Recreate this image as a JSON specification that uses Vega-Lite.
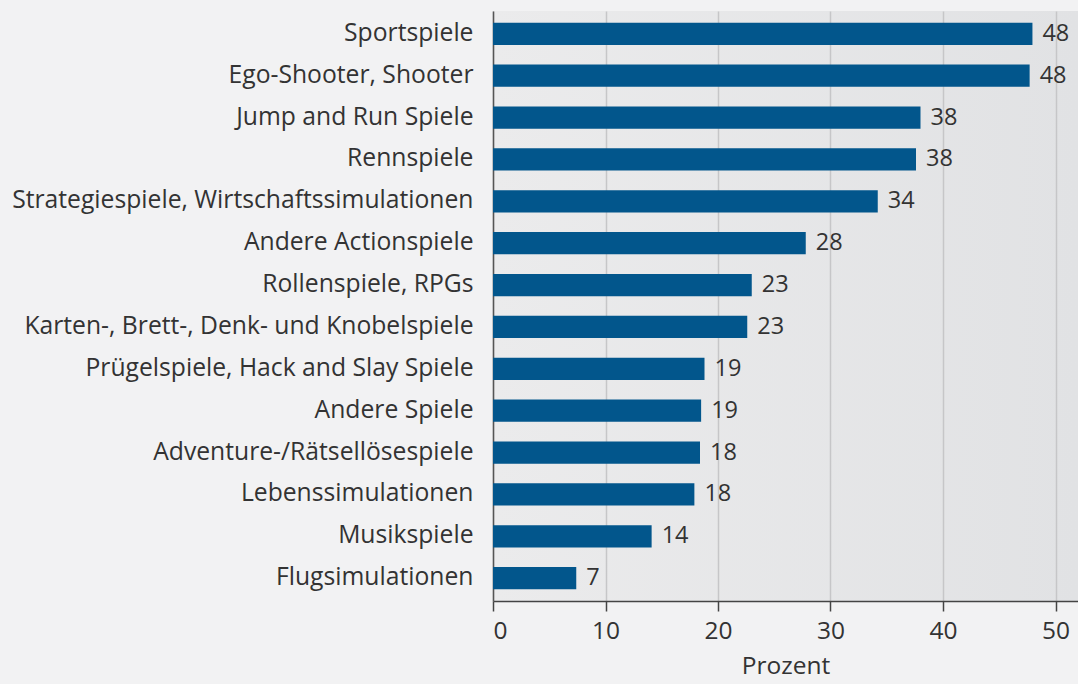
{
  "$schema": "https://vega.github.io/schema/vega-lite/v6.json",
  "width": 585,
  "height": 590,
  "autosize": {"type": "none"},
  "padding": {"left": 493, "top": 11, "right": 0, "bottom": 83},
  "background": "#f2f2f3",
  "config": {
    "font": "Open Sans",
    "view": {"stroke": null, "fill": {"gradient": "linear", "x1": 0, "y1": 0, "x2": 1, "y2": 0, "stops": [{"offset": 0, "color": "#ebebec"}, {"offset": 1, "color": "#e1e2e4"}]}}
  },
  "data": {
    "values": [
      {"genre": "Sportspiele", "wert": 47.95, "label": "48"},
      {"genre": "Ego-Shooter, Shooter", "wert": 47.7, "label": "48"},
      {"genre": "Jump and Run Spiele", "wert": 38.0, "label": "38"},
      {"genre": "Rennspiele", "wert": 37.6, "label": "38"},
      {"genre": "Strategiespiele, Wirtschaftssimulationen", "wert": 34.2, "label": "34"},
      {"genre": "Andere Actionspiele", "wert": 27.8, "label": "28"},
      {"genre": "Rollenspiele, RPGs", "wert": 23.0, "label": "23"},
      {"genre": "Karten-, Brett-, Denk- und Knobelspiele", "wert": 22.6, "label": "23"},
      {"genre": "Prügelspiele, Hack and Slay Spiele", "wert": 18.8, "label": "19"},
      {"genre": "Andere Spiele", "wert": 18.5, "label": "19"},
      {"genre": "Adventure-/Rätsellösespiele", "wert": 18.4, "label": "18"},
      {"genre": "Lebenssimulationen", "wert": 17.9, "label": "18"},
      {"genre": "Musikspiele", "wert": 14.1, "label": "14"},
      {"genre": "Flugsimulationen", "wert": 7.4, "label": "7"}
    ]
  },
  "encoding": {
    "y": {
      "field": "genre", "type": "nominal", "sort": null,
      "scale": {"paddingInner": 0.47, "paddingOuter": 0.28},
      "axis": {"title": null, "ticks": false, "domainColor": "#555555", "domainWidth": 1.5, "labelFontSize": 24.7, "labelColor": "#333333", "labelPadding": 20, "labelLimit": 500}
    },
    "x": {
      "field": "wert", "type": "quantitative",
      "scale": {"domain": [0, 52], "nice": false},
      "axis": {"title": "Prozent", "titleFontSize": 24.5, "titleFontWeight": "normal", "titleColor": "#333333", "titlePadding": 12, "values": [0, 10, 20, 30, 40, 50], "labelFontSize": 24.5, "labelColor": "#333333", "labelPadding": 8, "tickSize": 10, "tickColor": "#444444", "tickWidth": 1.5, "domainColor": "#444444", "domainWidth": 1.5, "gridColor": "#c6c6c8", "gridWidth": 1.5}
    }
  },
  "layer": [
    {"mark": {"type": "bar", "color": "#02568c"}},
    {"mark": {"type": "text", "align": "left", "dx": 10, "fontSize": 23.5, "color": "#333333"}, "encoding": {"text": {"field": "label"}}}
  ]
}
